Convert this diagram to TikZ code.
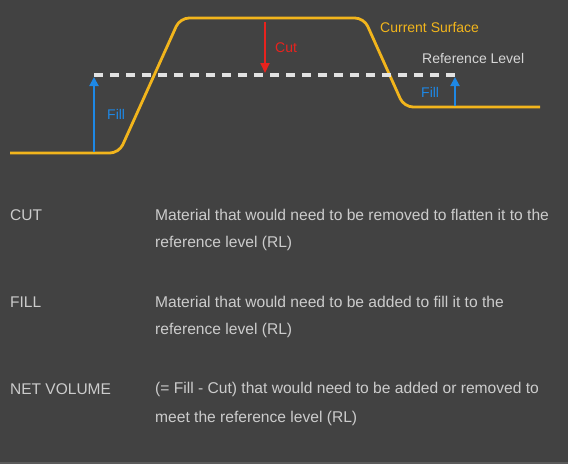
\documentclass[tikz,border=0pt]{standalone}
\usepackage{fontspec}
\setmainfont{Liberation Sans}
\usetikzlibrary{arrows.meta}
\definecolor{bg}{HTML}{424242}
\definecolor{strip}{HTML}{5A5A5A}
\definecolor{surf}{HTML}{F2B51C}
\definecolor{refc}{HTML}{E2E2E2}
\definecolor{reftxt}{HTML}{D6D6D6}
\definecolor{cutc}{HTML}{E8231E}
\definecolor{fillc}{HTML}{1E88E5}
\definecolor{bodytxt}{HTML}{CCCCCC}
\tikzset{
  surface/.style={draw=surf, line width=2.8pt, rounded corners=9pt},
  reflevel/.style={draw=refc, line width=3.2pt, dash pattern=on 9pt off 7pt},
  cutarrow/.style={draw=cutc, line width=2pt, -{Triangle[width=9pt,length=10pt]}},
  fillarrow/.style={draw=fillc, line width=2pt, -{Triangle[width=9pt,length=9pt]}},
  lbl/.style={inner sep=0pt, anchor=west, font=\fontsize{14}{16}\selectfont},
  term/.style={inner sep=0pt, anchor=west, text=bodytxt, font=\fontsize{15.5}{18}\selectfont},
  desc/.style={inner sep=0pt, anchor=west, text=bodytxt, font=\fontsize{15.6}{18}\selectfont},
}
\begin{document}
\begin{tikzpicture}[x=1pt,y=-1pt]
\fill[bg] (0,0) rectangle (568,464);
\fill[strip] (0,461.5) rectangle (568,464);
\useasboundingbox (0,0) rectangle (568,464);

% surface
\draw[surface] (10,153) -- (119,153) -- (180,18) -- (364,18) -- (404,107) -- (540,107);

% reference level
\coordinate (rl0) at (94,75);
\coordinate (rl1) at (457,75);
\draw[reflevel] (rl0) -- (rl1);

% arrows
\coordinate (cuttop) at (265,22);
\coordinate (cutbot) at (265,73);
\draw[cutarrow] (cuttop) -- (cutbot);
\coordinate (fl0) at (94,152);
\coordinate (fl1) at (94,77);
\draw[fillarrow] (fl0) -- (fl1);
\coordinate (fr0) at (455,106);
\coordinate (fr1) at (455,77);
\draw[fillarrow] (fr0) -- (fr1);

% labels
\node[lbl, text=cutc] (cutl) at (275,48) {Cut};
\node[lbl, text=fillc] (filll) at (107,114) {Fill};
\node[lbl, text=fillc] (fillr) at (421,92) {Fill};
\node[lbl, text=surf] (cs) at (380,27) {Current Surface};
\node[lbl, text=reftxt] (rlt) at (422,58) {Reference Level};

% definitions
\node[term] (t1) at (10,215) {CUT};
\node[desc] (d1a) at (155,215) {Material that would need to be removed to flatten it to the};
\node[desc] (d1b) at (155,243) {reference level (RL)};
\node[term] (t2) at (10,302) {FILL};
\node[desc] (d2a) at (155,302) {Material that would need to be added to fill it to the};
\node[desc] (d2b) at (155,330) {reference level (RL)};
\node[term] (t3) at (10,389) {NET VOLUME};
\node[desc] (d3a) at (155,389) {(= Fill - Cut) that would need to be added or removed to};
\node[desc] (d3b) at (155,418) {meet the reference level (RL)};
\end{tikzpicture}
\end{document}
